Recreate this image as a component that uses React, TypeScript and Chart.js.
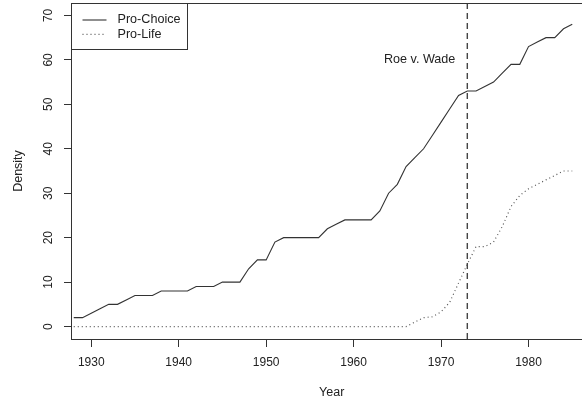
import { useEffect, useRef } from "react";
import { Chart, registerables } from "chart.js";

Chart.register(...registerables);

const years = [
  1928, 1929, 1930, 1931, 1932, 1933, 1934, 1935, 1936, 1937,
  1938, 1939, 1940, 1941, 1942, 1943, 1944, 1945, 1946, 1947,
  1948, 1949, 1950, 1951, 1952, 1953, 1954, 1955, 1956, 1957,
  1958, 1959, 1960, 1961, 1962, 1963, 1964, 1965, 1966, 1967,
  1968, 1969, 1970, 1971, 1972, 1973, 1974, 1975, 1976, 1977,
  1978, 1979, 1980, 1981, 1982, 1983, 1984, 1985,
];

const proChoice = [
  2, 2, 3, 4, 5, 5, 6, 7, 7, 7,
  8, 8, 8, 8, 9, 9, 9, 10, 10, 10,
  13, 15, 15, 19, 20, 20, 20, 20, 20, 22,
  23, 24, 24, 24, 24, 26, 30, 32, 36, 38,
  40, 43, 46, 49, 52, 53, 53, 54, 55, 57,
  59, 59, 63, 64, 65, 65, 67, 68,
];

const proLife = [
  0, 0, 0, 0, 0, 0, 0, 0, 0, 0,
  0, 0, 0, 0, 0, 0, 0, 0, 0, 0,
  0, 0, 0, 0, 0, 0, 0, 0, 0, 0,
  0, 0, 0, 0, 0, 0, 0, 0, 0, 1,
  2, 2.2, 3.3, 5.5, 9.8, 14, 18, 18, 19, 22.5,
  27, 29.5, 31, 32, 33, 34, 35, 35,
];

const seriesLabels = ["Pro-Choice", "Pro-Life"];
const xTicks = [1930, 1940, 1950, 1960, 1970, 1980];
const yTicks = [0, 10, 20, 30, 40, 50, 60, 70];
const eventYear = 1973;
const eventLabel = "Roe v. Wade";
const eventLabelValue = 60;

const FONT = "'Liberation Sans', Arial, Helvetica, sans-serif";
const INK = "#222";

const boxPlugin = {
  id: "rbox",
  afterDraw(chart: any) {
    const { ctx, chartArea } = chart;
    const l = Math.round(chartArea.left) - 0.5;
    const t = Math.round(chartArea.top) + 0.5;
    const r = Math.round(chartArea.right) - 0.5;
    const b = Math.round(chartArea.bottom) + 0.5;
    ctx.save();
    ctx.strokeStyle = "#333";
    ctx.lineWidth = 1;
    ctx.setLineDash([]);
    ctx.strokeRect(l, t, r - l, b - t);
    ctx.restore();
  },
};

const eventPlugin = {
  id: "event",
  afterDatasetsDraw(chart: any) {
    const { ctx, chartArea, scales } = chart;
    const x = scales.x.getPixelForValue(eventYear);
    ctx.save();
    ctx.strokeStyle = "#444";
    ctx.lineWidth = 1.4;
    ctx.setLineDash([6, 4]);
    ctx.beginPath();
    ctx.moveTo(x, chartArea.top);
    ctx.lineTo(x, chartArea.bottom);
    ctx.stroke();
    ctx.setLineDash([]);
    ctx.fillStyle = INK;
    ctx.font = `12.6px ${FONT}`;
    ctx.textAlign = "right";
    ctx.textBaseline = "middle";
    ctx.fillText(eventLabel, x - 12, scales.y.getPixelForValue(eventLabelValue));
    ctx.restore();
  },
};

const legendPlugin = {
  id: "rlegend",
  afterDraw(chart: any) {
    const { ctx, chartArea } = chart;
    const left = Math.round(chartArea.left) - 0.5;
    const top = Math.round(chartArea.top) + 0.5;
    const w = 116;
    const h = 46;
    ctx.save();
    ctx.fillStyle = "#fff";
    ctx.fillRect(left, top, w, h);
    ctx.strokeStyle = "#333";
    ctx.lineWidth = 1;
    ctx.setLineDash([]);
    ctx.strokeRect(left, top, w, h);
    ctx.font = `12.6px ${FONT}`;
    ctx.textBaseline = "middle";
    ctx.textAlign = "left";
    chart.data.datasets.forEach((ds: any, i: number) => {
      const y = top + 16.5 + i * 14.4;
      ctx.strokeStyle = ds.borderColor;
      ctx.lineWidth = ds.borderWidth;
      ctx.setLineDash(ds.borderDash || []);
      ctx.beginPath();
      ctx.moveTo(left + 11, y);
      ctx.lineTo(left + 35, y);
      ctx.stroke();
      ctx.setLineDash([]);
      ctx.fillStyle = INK;
      ctx.fillText(ds.label, left + 46, y);
    });
    ctx.restore();
  },
};

export default function App() {
  const ref = useRef<HTMLCanvasElement>(null);

  useEffect(() => {
    document.body.style.margin = "0";
    const canvas = ref.current;
    if (!canvas) return;
    Chart.defaults.font.family = FONT;
    const chart = new Chart(canvas, {
      type: "line",
      data: {
        datasets: [
          {
            label: seriesLabels[0],
            data: years.map((yr, i) => ({ x: yr, y: proChoice[i] })),
            borderColor: "#333",
            borderWidth: 1.1,
            pointRadius: 0,
            tension: 0,
            fill: false,
          },
          {
            label: seriesLabels[1],
            data: years.map((yr, i) => ({ x: yr, y: proLife[i] })),
            borderColor: "#555",
            borderWidth: 1.2,
            borderDash: [1, 3],
            pointRadius: 0,
            tension: 0,
            fill: false,
          },
        ],
      },
      options: {
        animation: false,
        responsive: false,
        devicePixelRatio: 1,
        layout: { padding: { top: 3, right: 0.5, left: 0, bottom: 0 } },
        plugins: {
          legend: { display: false },
          tooltip: { enabled: false },
        },
        scales: {
          x: {
            type: "linear",
            min: 1927.8,
            max: 1987.2,
            afterBuildTicks: (s: any) => {
              s.ticks = xTicks.map((v) => ({ value: v }));
            },
            afterFit: (s: any) => {
              s.height = 65;
              s.paddingLeft = 0;
              s.paddingRight = 0;
            },
            ticks: {
              autoSkip: false,
              maxRotation: 0,
              minRotation: 0,
              padding: 8,
              color: INK,
              font: { size: 12, family: FONT },
              callback: (v: any) => String(v),
            },
            grid: {
              drawOnChartArea: false,
              drawTicks: true,
              tickLength: 8,
              color: "#333",
              lineWidth: 1,
            },
            border: { display: false },
            title: {
              display: true,
              text: "Year",
              color: INK,
              font: { size: 12.5, family: FONT },
              padding: { top: 0, bottom: 3.5 },
            },
          },
          y: {
            type: "linear",
            min: -2.8,
            max: 72.8,
            afterBuildTicks: (s: any) => {
              s.ticks = yTicks.map((v) => ({ value: v }));
            },
            afterFit: (s: any) => {
              s.width = 72;
              s.paddingTop = 0;
              s.paddingBottom = 0;
            },
            ticks: {
              autoSkip: false,
              minRotation: 90,
              maxRotation: 90,
              crossAlign: "center",
              padding: 8.3,
              color: INK,
              font: { size: 12, family: FONT },
              callback: (v: any) => String(v),
            },
            grid: {
              drawOnChartArea: false,
              drawTicks: true,
              tickLength: 8,
              color: "#333",
              lineWidth: 1,
            },
            border: { display: false },
            title: {
              display: true,
              text: "Density",
              color: INK,
              font: { size: 12.5, family: FONT },
              padding: { top: 11, bottom: 0 },
            },
          },
        },
      },
      plugins: [eventPlugin, boxPlugin, legendPlugin],
    } as any);
    return () => chart.destroy();
  }, []);

  return (
    <div
      style={{
        width: 582,
        height: 404,
        overflow: "hidden",
        position: "relative",
        background: "#fff",
      }}
    >
      <canvas
        ref={ref}
        width={592}
        height={404}
        style={{ width: 592, height: 404, display: "block" }}
      />
    </div>
  );
}
